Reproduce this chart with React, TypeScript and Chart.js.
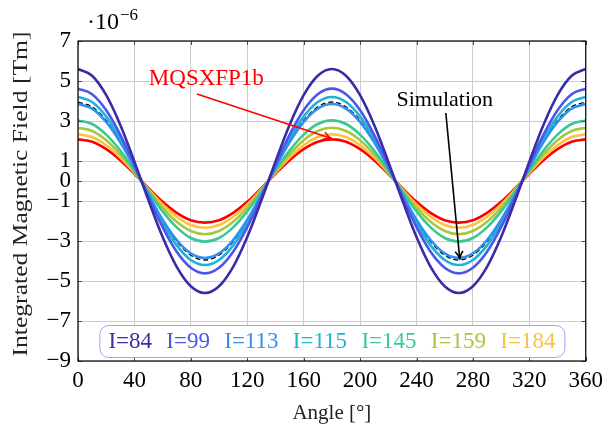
import React, { useEffect, useRef } from 'react';
import { Chart, registerables } from 'chart.js';

Chart.register(...registerables);

// ---------- data (values in units of 1e-6 Tm) ----------
const angles = [0, 10, 20, 30, 40, 50, 60, 70, 80, 90, 100, 110, 120, 130, 140, 150, 160, 170, 180,
  190, 200, 210, 220, 230, 240, 250, 260, 270, 280, 290, 300, 310, 320, 330, 340, 350, 360];

const i84 = [5.6, 5.26, 4.29, 2.8, 0.97, -0.97, -2.8, -4.29, -5.26, -5.6, -5.26, -4.29, -2.8, -0.97, 0.97, 2.8, 4.29, 5.26, 5.6,
  5.26, 4.29, 2.8, 0.97, -0.97, -2.8, -4.29, -5.26, -5.6, -5.26, -4.29, -2.8, -0.97, 0.97, 2.8, 4.29, 5.26, 5.6];
const i99 = [4.62, 4.34, 3.54, 2.31, 0.8, -0.8, -2.31, -3.54, -4.34, -4.62, -4.34, -3.54, -2.31, -0.8, 0.8, 2.31, 3.54, 4.34, 4.62,
  4.34, 3.54, 2.31, 0.8, -0.8, -2.31, -3.54, -4.34, -4.62, -4.34, -3.54, -2.31, -0.8, 0.8, 2.31, 3.54, 4.34, 4.62];
const i113 = [3.85, 3.62, 2.95, 1.93, 0.67, -0.67, -1.93, -2.95, -3.62, -3.85, -3.62, -2.95, -1.93, -0.67, 0.67, 1.93, 2.95, 3.62, 3.85,
  3.62, 2.95, 1.93, 0.67, -0.67, -1.93, -2.95, -3.62, -3.85, -3.62, -2.95, -1.93, -0.67, 0.67, 1.93, 2.95, 3.62, 3.85];
const i115 = [4.2, 3.95, 3.22, 2.1, 0.73, -0.73, -2.1, -3.22, -3.95, -4.2, -3.95, -3.22, -2.1, -0.73, 0.73, 2.1, 3.22, 3.95, 4.2,
  3.95, 3.22, 2.1, 0.73, -0.73, -2.1, -3.22, -3.95, -4.2, -3.95, -3.22, -2.1, -0.73, 0.73, 2.1, 3.22, 3.95, 4.2];
const i145 = [3.03, 2.85, 2.32, 1.52, 0.53, -0.53, -1.52, -2.32, -2.85, -3.03, -2.85, -2.32, -1.52, -0.53, 0.53, 1.52, 2.32, 2.85, 3.03,
  2.85, 2.32, 1.52, 0.53, -0.53, -1.52, -2.32, -2.85, -3.03, -2.85, -2.32, -1.52, -0.53, 0.53, 1.52, 2.32, 2.85, 3.03];
const i159 = [2.66, 2.5, 2.04, 1.33, 0.46, -0.46, -1.33, -2.04, -2.5, -2.66, -2.5, -2.04, -1.33, -0.46, 0.46, 1.33, 2.04, 2.5, 2.66,
  2.5, 2.04, 1.33, 0.46, -0.46, -1.33, -2.04, -2.5, -2.66, -2.5, -2.04, -1.33, -0.46, 0.46, 1.33, 2.04, 2.5, 2.66];
const i184 = [2.34, 2.2, 1.79, 1.17, 0.41, -0.41, -1.17, -1.79, -2.2, -2.34, -2.2, -1.79, -1.17, -0.41, 0.41, 1.17, 1.79, 2.2, 2.34,
  2.2, 1.79, 1.17, 0.41, -0.41, -1.17, -1.79, -2.2, -2.34, -2.2, -1.79, -1.17, -0.41, 0.41, 1.17, 1.79, 2.2, 2.34];
const mqsxfp1b = [2.08, 1.96, 1.59, 1.04, 0.36, -0.36, -1.04, -1.59, -1.96, -2.08, -1.96, -1.59, -1.04, -0.36, 0.36, 1.04, 1.59, 1.96, 2.08,
  1.96, 1.59, 1.04, 0.36, -0.36, -1.04, -1.59, -1.96, -2.08, -1.96, -1.59, -1.04, -0.36, 0.36, 1.04, 1.59, 1.96, 2.08];
const simulation = [3.95, 3.71, 3.03, 1.98, 0.69, -0.69, -1.98, -3.03, -3.71, -3.95, -3.71, -3.03, -1.98, -0.69, 0.69, 1.98, 3.03, 3.71, 3.95,
  3.71, 3.03, 1.98, 0.69, -0.69, -1.98, -3.03, -3.71, -3.95, -3.71, -3.03, -1.98, -0.69, 0.69, 1.98, 3.03, 3.71, 3.95];

const currentLabels = ['I=84', 'I=99', 'I=113', 'I=115', 'I=145', 'I=159', 'I=184'];
const currentSeries = [i84, i99, i113, i115, i145, i159, i184];
const yTickValues = [-9, -7, -5, -3, -1, 0, 1, 3, 5, 7];

const xTitle = 'Angle [°]';
const yTitle = 'Integrated Magnetic Field [Tm]';
const mqLabel = 'MQSXFP1b';
const simLabel = 'Simulation';
// annotation anchors in data units [angle, field]
const mqTextAt = [91, 5.1];
const mqArrowFrom = [84.3, 4.35];
const mqArrowTo = [179.8, 2.13];
const simTextAt = [260, 4.05];
const simArrowFrom = [260.8, 3.4];
const simArrowTo = [270.7, -3.92];

// ---------- styles ----------
const SERIF = "'Liberation Serif', 'Times New Roman', serif";
const colors = ['#3b2ca6', '#4b57e8', '#3190ef', '#1db2d8', '#3cc895', '#a5c83e', '#ffc13d'];

function drawArrow(ctx: CanvasRenderingContext2D, x1: number, y1: number, x2: number, y2: number, color: string) {
  ctx.save();
  ctx.strokeStyle = color;
  ctx.lineWidth = 1.6;
  ctx.beginPath();
  ctx.moveTo(x1, y1);
  ctx.lineTo(x2, y2);
  ctx.stroke();
  const a = Math.atan2(y2 - y1, x2 - x1);
  const L = 9;
  const s = 0.45;
  ctx.beginPath();
  ctx.moveTo(x2 - L * Math.cos(a - s), y2 - L * Math.sin(a - s));
  ctx.quadraticCurveTo(x2 - 3 * Math.cos(a), y2 - 3 * Math.sin(a), x2, y2);
  ctx.quadraticCurveTo(x2 - 3 * Math.cos(a), y2 - 3 * Math.sin(a), x2 - L * Math.cos(a + s), y2 - L * Math.sin(a + s));
  ctx.stroke();
  ctx.restore();
}

const overlay = {
  id: 'overlay',
  afterDatasetsDraw(chart: any) {
    const { ctx, chartArea, scales } = chart;
    const { left, right, top, bottom } = chartArea;
    const xs = scales.x;
    const ys = scales.y;
    ctx.save();

    // inward tick marks
    ctx.strokeStyle = '#4a4a4a';
    ctx.lineWidth = 1;
    ctx.beginPath();
    xs.ticks.forEach((t: any) => {
      const px = Math.round(xs.getPixelForValue(t.value)) + 0.5;
      ctx.moveTo(px, bottom); ctx.lineTo(px, bottom - 4);
      ctx.moveTo(px, top); ctx.lineTo(px, top + 4);
    });
    ys.ticks.forEach((t: any) => {
      const py = Math.round(ys.getPixelForValue(t.value)) + 0.5;
      ctx.moveTo(left, py); ctx.lineTo(left + 4, py);
      ctx.moveTo(right, py); ctx.lineTo(right - 4, py);
    });
    ctx.stroke();

    // frame
    ctx.strokeStyle = '#000';
    ctx.lineWidth = 1.2;
    ctx.strokeRect(left, top, right - left, bottom - top);

    // annotations
    ctx.font = `23px ${SERIF}`;
    ctx.textAlign = 'center';
    ctx.textBaseline = 'middle';
    ctx.fillStyle = '#ff0000';
    ctx.fillText(mqLabel, xs.getPixelForValue(mqTextAt[0]), ys.getPixelForValue(mqTextAt[1]));
    drawArrow(ctx, xs.getPixelForValue(mqArrowFrom[0]), ys.getPixelForValue(mqArrowFrom[1]),
      xs.getPixelForValue(mqArrowTo[0]), ys.getPixelForValue(mqArrowTo[1]), '#ff0000');
    ctx.fillStyle = '#000';
    ctx.font = `22px ${SERIF}`;
    ctx.fillText(simLabel, xs.getPixelForValue(simTextAt[0]), ys.getPixelForValue(simTextAt[1]));
    drawArrow(ctx, xs.getPixelForValue(simArrowFrom[0]), ys.getPixelForValue(simArrowFrom[1]),
      xs.getPixelForValue(simArrowTo[0]), ys.getPixelForValue(simArrowTo[1]), '#000');

    // legend
    ctx.font = `23px ${SERIF}`;
    const widths = currentLabels.map((l) => ctx.measureText(l).width);
    const textSpan = 447;
    const gap = (textSpan - widths.reduce((a, b) => a + b, 0)) / (currentLabels.length - 1);
    const cx = (left + right) / 2;
    const boxW = textSpan + 18;
    const boxL = cx - boxW / 2;
    const boxT = bottom - 36;
    const boxH = 32;
    ctx.beginPath();
    ctx.roundRect(boxL + 0.5, boxT + 0.5, boxW, boxH, 9);
    ctx.fillStyle = '#fff';
    ctx.fill();
    ctx.strokeStyle = '#a3a3f2';
    ctx.lineWidth = 1;
    ctx.stroke();
    ctx.textAlign = 'left';
    let tx = boxL + 9;
    currentLabels.forEach((l, i) => {
      ctx.fillStyle = colors[i];
      ctx.fillText(l, tx, boxT + boxH / 2 + 1);
      tx += widths[i] + gap;
    });

    // exponent marker
    ctx.fillStyle = '#000';
    ctx.textAlign = 'left';
    ctx.textBaseline = 'alphabetic';
    ctx.font = `24px ${SERIF}`;
    const base = '·10';
    ctx.fillText(base, left + 9, top - 12);
    const bw = ctx.measureText(base).width;
    ctx.font = `17px ${SERIF}`;
    ctx.fillText('−6', left + 10 + bw, top - 21);

    // axis titles
    ctx.font = `21px ${SERIF}`;
    ctx.textAlign = 'center';
    ctx.textBaseline = 'middle';
    ctx.fillStyle = '#222';
    ctx.fillText(xTitle, (left + right) / 2, 413);

    ctx.save();
    ctx.translate(21, 194);
    ctx.rotate(-Math.PI / 2);
    ctx.font = `22px ${SERIF}`;
    const w = ctx.measureText(yTitle).width;
    ctx.scale(325 / w, 1);
    ctx.fillText(yTitle, 0, 0);
    ctx.restore();

    ctx.restore();
  },
};

export default function App() {
  const ref = useRef<HTMLCanvasElement | null>(null);
  useEffect(() => {
    if (!ref.current) return;
    const mk = (vals: number[]) => angles.map((a, i) => ({ x: a, y: vals[i] }));
    const datasets: any[] = [];
    currentSeries.forEach((s, i) => {
      datasets.push({
        label: currentLabels[i],
        data: mk(s),
        borderColor: colors[i],
        borderWidth: 2.6,
        pointRadius: 0,
        cubicInterpolationMode: 'monotone',
        fill: false,
      });
      if (i === 3) {
        datasets.push({
          label: simLabel,
          data: mk(simulation),
          borderColor: '#000',
          borderWidth: 1.3,
          borderDash: [5, 3],
          pointRadius: 0,
          cubicInterpolationMode: 'monotone',
          fill: false,
        });
      }
    });
    datasets.push({
      label: mqLabel,
      data: mk(mqsxfp1b),
      borderColor: '#ff0000',
      borderWidth: 2.6,
      pointRadius: 0,
      cubicInterpolationMode: 'monotone',
      fill: false,
    });

    const chart = new Chart(ref.current, {
      type: 'line',
      data: { datasets },
      options: {
        animation: false,
        responsive: false,
        devicePixelRatio: 1,
        layout: { padding: { top: 41, right: 22, left: 0, bottom: 0 } },
        plugins: { legend: { display: false }, tooltip: { enabled: false }, title: { display: false } },
        scales: {
          x: {
            type: 'linear',
            min: 0,
            max: 360,
            afterFit: (s: any) => { s.height = 69; },
            ticks: { stepSize: 40, color: '#000', font: { family: SERIF, size: 23 }, padding: 6, maxRotation: 0 },
            grid: { color: '#cccccc', lineWidth: 1, drawTicks: false },
            border: { display: false },
          },
          y: {
            type: 'linear',
            min: -9,
            max: 7,
            afterFit: (s: any) => { s.width = 78; },
            afterBuildTicks: (s: any) => { s.ticks = yTickValues.map((v) => ({ value: v })); },
            ticks: {
              color: '#000',
              font: { family: SERIF, size: 23 },
              padding: 7,
              callback: (v: any) => (Number(v) < 0 ? '−' + Math.abs(Number(v)) : String(v)),
            },
            grid: { color: '#cccccc', lineWidth: 1, drawTicks: false },
            border: { display: false },
          },
        },
      },
      plugins: [overlay],
    });
    return () => chart.destroy();
  }, []);
  return (
    <div style={{ position: 'absolute', left: 0, top: 0, width: 609, height: 430, background: '#fff' }}>
      <canvas ref={ref} width={609} height={430} style={{ display: 'block' }} />
    </div>
  );
}
